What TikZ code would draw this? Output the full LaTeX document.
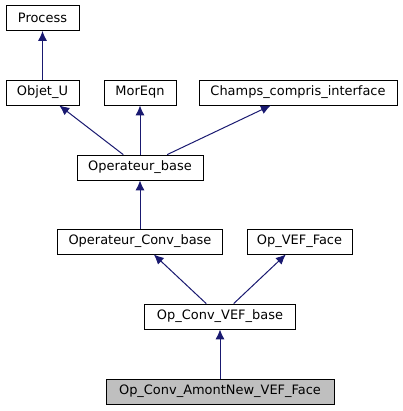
\documentclass[tikz,border=0pt]{standalone}
\usepackage{fontspec}
\setmainfont{DejaVu Sans}
\usetikzlibrary{arrows.meta}
\definecolor{edgeblue}{RGB}{25,25,112}
\definecolor{curgrey}{RGB}{191,191,191}

\begin{document}
\begin{tikzpicture}[x=1bp,y=-1bp,>={Latex[length=10bp,width=9bp]},
  box/.style={draw=black,fill=white,line width=0.8bp,minimum height=25bp,inner sep=0pt,
    font=\fontsize{13}{15}\selectfont},
  edge/.style={edgeblue,line width=1bp,->},]
\useasboundingbox (0,0) rectangle (403,411);
%%
\node (node_0) at (42.5,18) [box,minimum width=73bp] {Process};
  \node (node_1) at (42.5,92.5) [box,minimum width=73bp] {Objet\_U};
  \node (node_2) at (140,92.5) [box,minimum width=72bp] {MorEqn};
  \node (node_3) at (298,92.5) [box,minimum width=198bp] {Champs\_compris\_interface};
  \node (node_4) at (140,167.5) [box,minimum width=126bp] {Operateur\_base};
  \node (node_5) at (140,241.5) [box,minimum width=165bp] {Operateur\_Conv\_base};
  \node (node_6) at (299.5,241.5) [box,minimum width=105bp] {Op\_VEF\_Face};
  \node (node_7) at (220,316.5) [box,minimum width=151bp] {Op\_Conv\_VEF\_base};
  \node (node_8) at (220,391.5) [box,fill=curgrey,minimum width=228bp] {Op\_Conv\_AmontNew\_VEF\_Face};
  \draw [edge] (node_1) -- (node_0);
  \draw [edge] (node_4) -- (node_1);
  \draw [edge] (node_4) -- (node_2);
  \draw [edge] (node_4) -- (node_3);
  \draw [edge] (node_5) -- (node_4);
  \draw [edge] (node_7) -- (node_5);
  \draw [edge] (node_7) -- (node_6);
  \draw [edge] (node_8) -- (node_7);
%
\end{tikzpicture}
\end{document}
